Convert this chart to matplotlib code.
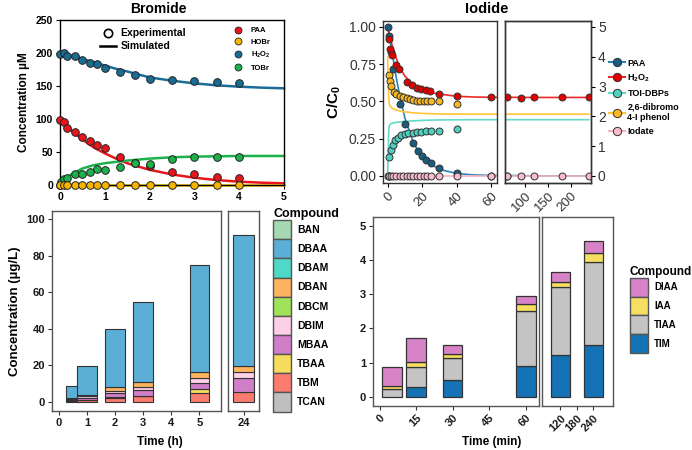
import matplotlib
matplotlib.use('Agg')
import matplotlib.pyplot as plt
from matplotlib.lines import Line2D
from matplotlib.patches import Patch

plt.rcParams['font.family'] = ['Liberation Sans', 'DejaVu Sans']
plt.rcParams['mathtext.fontset'] = 'custom'
plt.rcParams['mathtext.rm'] = 'Liberation Sans'
plt.rcParams['mathtext.bf'] = 'Liberation Sans:bold'
plt.rcParams['mathtext.default'] = 'regular'

# ---------------- Bromide kinetics (time in h, concentration in uM)
BR_T = [0, 0.083, 0.167, 0.333, 0.5, 0.667, 0.833, 1, 1.333, 1.667, 2, 2.5, 3, 3.5, 4]
BR_PAA = [99, 95, 87, 80, 73, 66, 60, 56, 43, 34, 29, 20, 17, 12, 10]
BR_HOBR = [0, 0, 0, 0, 0, 0, 0, 0, 0, 0, 0, 0, 0, 0, 0]
BR_H2O2 = [198, 200, 196, 196, 189, 185, 184, 177, 171, 167, 160, 159, 158, 156, 154]
BR_TOBR_T = [0, 0.033, 0.083, 0.167, 0.333, 0.5, 0.667, 0.833, 1, 1.333, 1.667, 2, 2.5, 3, 3.5, 4]
BR_TOBR = [0, 4.5, 9, 11, 16, 17, 19, 24, 22, 27, 33, 32, 39, 42, 43, 43]

BR_SIM_T = [0, 0.1, 0.25, 0.5, 0.75, 1, 1.25, 1.5, 2, 2.5, 3, 3.5, 4, 4.5, 5]
BR_SIM_PAA = [100, 93, 83, 69, 57, 48, 40, 33, 23, 16, 11, 7.5, 5, 3.5, 2.5]
BR_SIM_HOBR = [0.5, 0.5, 0.5, 0.5, 0.5, 0.5, 0.5, 0.5, 0.5, 0.5, 0.5, 0.5, 0.5, 0.5, 0.5]
BR_SIM_H2O2 = [200, 198, 196, 191, 186, 181, 176, 172, 163, 158, 154, 151, 149, 147.5, 146.5]
BR_SIM_TOBR = [0, 8, 16, 25, 30, 33, 35, 37, 40, 42, 43, 43.5, 44, 44, 44]

# ---------------- Iodide kinetics (time in min, C/C0)
IO_PAA_T = [0, 1, 2, 3, 7, 10, 15, 17.5, 20, 22, 25, 30, 40, 60]
IO_PAA = [1.0, 0.94, 0.83, 0.72, 0.48, 0.35, 0.22, 0.17, 0.135, 0.105, 0.085, 0.055, 0.022, 0.0]
IO_H2O2_T = [0.5, 1.5, 2.5, 5, 6.5, 11.5, 14, 17, 19.5, 22, 24.5, 30, 40, 60, 90, 120, 180, 240]
IO_H2O2 = [0.92, 0.85, 0.81, 0.745, 0.72, 0.63, 0.61, 0.59, 0.585, 0.575, 0.57, 0.55, 0.535,
           0.53, 0.525, 0.53, 0.53, 0.53]
IO_DBP_T = [0.8, 2, 3, 4.5, 6, 8, 10, 12, 14.5, 17, 19.5, 22, 25, 30, 40]
IO_DBP = [0.125, 0.175, 0.21, 0.24, 0.258, 0.272, 0.282, 0.288, 0.29, 0.295, 0.298, 0.3, 0.3,
          0.302, 0.315]
IO_PHENOL_T = [0.5, 1.2, 2, 3.5, 5, 7, 9, 11, 13, 15, 17, 19, 21, 23, 25, 30, 40]
IO_PHENOL = [0.675, 0.635, 0.605, 0.565, 0.55, 0.537, 0.527, 0.52, 0.515, 0.51, 0.505, 0.505,
             0.5, 0.5, 0.503, 0.5, 0.485]
IO_IODATE_T = [0, 0.5, 1, 2, 3, 5, 7, 9, 11, 13, 15, 17, 19, 21, 23, 25, 30, 40, 60, 90, 120, 180, 240]
IO_IODATE = [0] * 23

IO_SIM_T = [0, 0.3, 0.6, 1, 2, 3, 5, 7, 10, 15, 20, 25, 30, 40, 50, 60, 120, 240]
IO_SIM_PAA = [1.0, 0.985, 0.97, 0.94, 0.87, 0.8, 0.66, 0.54, 0.39, 0.22, 0.13, 0.08, 0.045,
              0.017, 0.007, 0.004, 0.001, 0.001]
IO_SIM_H2O2 = [1.0, 0.98, 0.965, 0.945, 0.9, 0.86, 0.79, 0.73, 0.67, 0.61, 0.58, 0.56, 0.55,
               0.535, 0.53, 0.528, 0.527, 0.527]
IO_SIM_DBP = [0, 0.15, 0.3, 0.34, 0.352, 0.356, 0.36, 0.363, 0.366, 0.37, 0.373, 0.375, 0.376,
              0.377, 0.378, 0.378, 0.378, 0.378]
IO_SIM_PHENOL = [0.8, 0.66, 0.53, 0.48, 0.46, 0.452, 0.443, 0.437, 0.43, 0.424, 0.42, 0.418,
                 0.416, 0.415, 0.415, 0.415, 0.415, 0.415]
IO_SIM_IODATE = [0.003] * 18

# ---------------- Bromide DBPs (time in h, ug/L)
BRD_T = [0.5, 1, 2, 3, 5, 24]
BRD_COMPOUNDS = ['BAN', 'DBAA', 'DBAM', 'DBAN', 'DBCM', 'DBIM', 'MBAA', 'TBAA', 'TBM', 'TCAN']
BRD_BAN = [0, 0, 0, 0, 0, 0]
BRD_DBAA = [6.2, 16.0, 32.0, 44.0, 58.1, 71.4]
BRD_DBAM = [0, 0, 0, 0, 0, 0]
BRD_DBAN = [0.6, 0.8, 2.0, 2.5, 3.3, 3.7]
BRD_DBCM = [0, 0, 0, 0, 0, 0]
BRD_DBIM = [0.3, 0.7, 1.1, 2.0, 2.9, 3.3]
BRD_MBAA = [0.6, 1.2, 2.2, 3.0, 3.3, 7.3]
BRD_TBAA = [0.2, 0.3, 0.7, 0.3, 2.4, 0]
BRD_TBM = [0.6, 0.8, 2.0, 3.0, 4.7, 5.6]
BRD_TCAN = [0, 0, 0, 0, 0, 0]

# ---------------- Iodide DBPs (time in min, ug/L)
IOD_T = [5, 15, 30, 60, 120, 240]
IOD_COMPOUNDS = ['DIAA', 'IAA', 'TIAA', 'TIM']
IOD_DIAA = [0.58, 0.70, 0.26, 0.24, 0.28, 0.34]
IOD_IAA = [0.07, 0.13, 0.14, 0.20, 0.14, 0.26]
IOD_TIAA = [0.24, 0.60, 0.63, 1.60, 2.00, 2.42]
IOD_TIM = [0, 0.29, 0.50, 0.90, 1.22, 1.52]

C_RED, C_YEL, C_BLU, C_GRN = '#e8161b', '#f7b500', '#1b6c94', '#1db14b'
BRD_COLORS = {'BAN': '#a6d8b2', 'DBAA': '#5bafd6', 'DBAM': '#4fd8c8', 'DBAN': '#fdb35f',
              'DBCM': '#a0e35a', 'DBIM': '#fdd0e7', 'MBAA': '#d17ec9', 'TBAA': '#f5dc5d',
              'TBM': '#fb7b6f', 'TCAN': '#bfbfbf'}
IOD_COLORS = {'DIAA': '#d883c8', 'IAA': '#f6de60', 'TIAA': '#c4c4c4', 'TIM': '#1472b5'}

W, H = 692, 450
fig = plt.figure(figsize=(W / 100, H / 100), dpi=100)


def add_ax(x0, y0, x1, y1):
    # pixel box (left, top, right, bottom) -> figure axes
    return fig.add_axes([x0 / W, 1 - y1 / H, (x1 - x0) / W, (y1 - y0) / H])


def frame(ax, color, lw=1.0):
    for s in ax.spines.values():
        s.set_color(color)
        s.set_linewidth(lw)


# ================= Bromide kinetics
ax = add_ax(60, 20, 284, 185)
frame(ax, 'black', 1.0)
for ts, ys, c in [(BR_SIM_T, BR_SIM_H2O2, C_BLU), (BR_SIM_T, BR_SIM_PAA, C_RED),
                  (BR_SIM_T, BR_SIM_TOBR, C_GRN), (BR_SIM_T, BR_SIM_HOBR, C_YEL)]:
    ax.plot(ts, ys, color=c, lw=1.8, zorder=2, clip_on=False)
pts = [(BR_T, BR_H2O2, C_BLU), (BR_T, BR_PAA, C_RED),
       (BR_TOBR_T, BR_TOBR, C_GRN), (BR_T, BR_HOBR, C_YEL)]
for ts, ys, c in pts:
    ax.plot(ts, ys, 'o', ms=5.5, mfc=c, mec='#222222', mew=0.7, zorder=3, clip_on=False)
ax.set_xlim(0, 5)
ax.set_ylim(0, 250)
ax.set_xticks(range(6))
ax.set_yticks(range(0, 251, 50))
ax.tick_params(labelsize=7.5, length=3, width=0.8, pad=2)
for lab in ax.get_xticklabels() + ax.get_yticklabels():
    lab.set_fontweight('bold')
ax.set_ylabel('Concentration µM', fontsize=8.5, fontweight='bold', labelpad=4)
fig.text(158 / W, 1 - 9 / H, 'Bromide', ha='center', va='center', fontsize=10,
         fontweight='bold')
h1 = [Line2D([], [], marker='o', ls='none', mfc='white', mec='black', mew=1.2, ms=6),
      Line2D([], [], color='black', lw=1.8)]
leg1 = ax.legend(h1, ['Experimental', 'Simulated'], loc='upper left', bbox_to_anchor=(0.14, 1.0),
                 frameon=False, prop={'size': 7.5, 'weight': 'bold'}, handlelength=1.6,
                 handletextpad=0.4, labelspacing=0.3, borderpad=0.3)
ax.add_artist(leg1)
h2 = [Line2D([], [], marker='o', ls='none', mfc=c, mec='#222222', mew=0.6, ms=5)
      for c in [C_RED, C_YEL, C_BLU, C_GRN]]
ax.legend(h2, ['PAA', 'HOBr', r'H$_\mathbf{2}$O$_\mathbf{2}$', 'TOBr'], loc='upper right',
          bbox_to_anchor=(0.97, 1.0), frameon=False, prop={'size': 5.5, 'weight': 'bold'},
          handletextpad=0.6, labelspacing=0.55, borderpad=0.4)

# ================= Iodide kinetics
IO_SERIES = [
    ('PAA', IO_SIM_PAA, IO_PAA_T, IO_PAA, '#2a86b8', '#1a5b80'),
    (r'H$_\mathbf{2}$O$_\mathbf{2}$', IO_SIM_H2O2, IO_H2O2_T, IO_H2O2, '#ec2a2a', '#e00000'),
    ('TOI-DBPs', IO_SIM_DBP, IO_DBP_T, IO_DBP, '#62d8c9', '#4fcfbf'),
    ('2,6-dibromo\n4-I phenol', IO_SIM_PHENOL, IO_PHENOL_T, IO_PHENOL, '#ffc43a', '#f7b823'),
    ('Iodate', IO_SIM_IODATE, IO_IODATE_T, IO_IODATE, '#f7b3c6', '#f8bccb'),
]
io_ylim = (-0.047, 1.04)
axl = add_ax(383, 21, 497, 183)
axr = add_ax(505, 21, 591, 183)
for a, xl in [(axl, (-2.7, 63.5)), (axr, (55, 245))]:
    frame(a, '#333333', 1.0)
    for name, sim, ts, ys, lc, mc in IO_SERIES:
        a.plot(IO_SIM_T, sim, color=lc, lw=1.2, zorder=2)
        a.plot(ts, ys, 'o', ms=5, mfc=mc, mec='#333333', mew=0.7, zorder=3)
    a.set_xlim(*xl)
    a.set_ylim(*io_ylim)
    a.tick_params(labelsize=10, labelcolor='#333333', length=3, width=0.8, pad=2)
axl.set_xticks([0, 20, 40, 60])
axr.set_xticks([100, 150, 200])
for a in (axl, axr):
    for lab in a.get_xticklabels():
        lab.set_rotation(45)
        lab.set_ha('right')
        lab.set_rotation_mode('anchor')
        lab.set_fontsize(9.5)
axl.set_yticks([0, 0.25, 0.5, 0.75, 1.0])
axl.set_yticklabels(['0.00', '0.25', '0.50', '0.75', '1.00'])
axl.set_ylabel(r'C/C$_\mathbf{0}$', fontsize=11, fontweight='bold', labelpad=4)
axr.set_yticks([])
axr2 = axr.twinx()
axr2.set_ylim(io_ylim[0] * 5, io_ylim[1] * 5)
axr2.set_yticks(range(6))
axr2.tick_params(labelsize=10, labelcolor='#333333', length=3, width=0.8, pad=2)
frame(axr2, '#333333', 1.0)
fig.text((383 + 591) / 2 / W, 1 - 9 / H, 'Iodide', ha='center', va='center', fontsize=10.5,
         fontweight='bold')
h3 = [Line2D([], [], color=lc, lw=1.5, marker='o', ms=6, mfc=mc, mec='#333333', mew=0.7)
      for name, sim, ts, ys, lc, mc in IO_SERIES]
fig.legend(h3, [s[0] for s in IO_SERIES], loc='upper left', bbox_to_anchor=(604 / W, 1 - 54 / H),
           frameon=False, prop={'size': 6.5, 'weight': 'bold'}, handlelength=1.8,
           handletextpad=0.3, labelspacing=0.55, borderpad=0)

# ================= Bromide DBPs
brd_vals = {'BAN': BRD_BAN, 'DBAA': BRD_DBAA, 'DBAM': BRD_DBAM, 'DBAN': BRD_DBAN,
            'DBCM': BRD_DBCM, 'DBIM': BRD_DBIM, 'MBAA': BRD_MBAA, 'TBAA': BRD_TBAA,
            'TBM': BRD_TBM, 'TCAN': BRD_TCAN}
bl = add_ax(52, 211, 221, 411)
br = add_ax(228, 211, 259, 411)
for i, t in enumerate(BRD_T):
    a = bl if t < 10 else br
    width = 0.5 if i == 0 else 0.7
    bottom = 0
    for comp in reversed(BRD_COMPOUNDS):
        v = brd_vals[comp][i]
        if v <= 0:
            continue
        a.bar(t, v, width=width, bottom=bottom, color=BRD_COLORS[comp], edgecolor='#333333',
              lw=0.8, zorder=2 + i)
        bottom += v
for a in (bl, br):
    frame(a, '#555555', 1.0)
    a.set_ylim(-5, 104.5)
    a.tick_params(labelsize=8, length=3, width=0.8, pad=2, colors='#333333', labelcolor='#1a1a1a')
bl.set_xlim(-0.25, 5.77)
br.set_xlim(23.46, 24.54)
bl.set_xticks(range(6))
br.set_xticks([24])
bl.set_yticks(range(0, 101, 20))
br.set_yticks([])
for lab in bl.get_xticklabels() + bl.get_yticklabels() + br.get_xticklabels():
    lab.set_fontweight('bold')
bl.set_ylabel('Concentration (µg/L)', fontsize=9.5, fontweight='bold', labelpad=4)
fig.text(160 / W, 1 - 442 / H, 'Time (h)', ha='center', va='center', fontsize=8.5,
         fontweight='bold')
h4 = [Patch(facecolor=BRD_COLORS[c], edgecolor='#555555', lw=1.0) for c in BRD_COMPOUNDS]
leg = fig.legend(h4, BRD_COMPOUNDS, loc='upper left', bbox_to_anchor=(268 / W, 1 - 203 / H),
                 frameon=False, title='Compound', prop={'size': 7.5, 'weight': 'bold'},
                 title_fontproperties={'size': 9, 'weight': 'bold'}, handlelength=1.7,
                 handleheight=2.45, labelspacing=0, handletextpad=0.6, borderpad=0)
leg._legend_box.align = 'left'

# ================= Iodide DBPs
iod_vals = {'DIAA': IOD_DIAA, 'IAA': IOD_IAA, 'TIAA': IOD_TIAA, 'TIM': IOD_TIM}
il = add_ax(373, 217, 539, 406)
ir = add_ax(542, 217, 613, 406)
for i, t in enumerate(IOD_T):
    a = il if t <= 60 else ir
    width = 8 if t <= 60 else 68
    bottom = 0
    for comp in reversed(IOD_COMPOUNDS):
        v = iod_vals[comp][i]
        if v <= 0:
            continue
        a.bar(t, v, width=width, bottom=bottom, color=IOD_COLORS[comp], edgecolor='#333333',
              lw=0.9, zorder=2)
        bottom += v
for a in (il, ir):
    frame(a, '#555555', 1.0)
    a.set_ylim(-0.26, 5.25)
    a.tick_params(labelsize=8, length=3, width=0.8, pad=2, colors='#333333', labelcolor='#1a1a1a')
il.set_xlim(-2.7, 65.4)
ir.set_xlim(52.7, 311)
il.set_xticks([0, 15, 30, 45, 60])
ir.set_xticks([120, 180, 240])
il.set_yticks(range(6))
ir.set_yticks([])
for lab in il.get_yticklabels():
    lab.set_fontweight('bold')
for a in (il, ir):
    for lab in a.get_xticklabels():
        lab.set_fontweight('bold')
        lab.set_rotation(45)
        lab.set_ha('right')
        lab.set_rotation_mode('anchor')
fig.text(492 / W, 1 - 442 / H, 'Time (min)', ha='center', va='center', fontsize=8.5,
         fontweight='bold')
h5 = [Patch(facecolor=IOD_COLORS[c], edgecolor='#555555', lw=1.0) for c in IOD_COMPOUNDS]
leg = fig.legend(h5, IOD_COMPOUNDS, loc='upper left', bbox_to_anchor=(625 / W, 1 - 261 / H),
                 frameon=False, title='Compound', prop={'size': 7, 'weight': 'bold'},
                 title_fontproperties={'size': 8.5, 'weight': 'bold'}, handlelength=1.9,
                 handleheight=2.6, labelspacing=0, handletextpad=0.6, borderpad=0)
leg._legend_box.align = 'left'

fig.savefig('out.png', dpi=100)
